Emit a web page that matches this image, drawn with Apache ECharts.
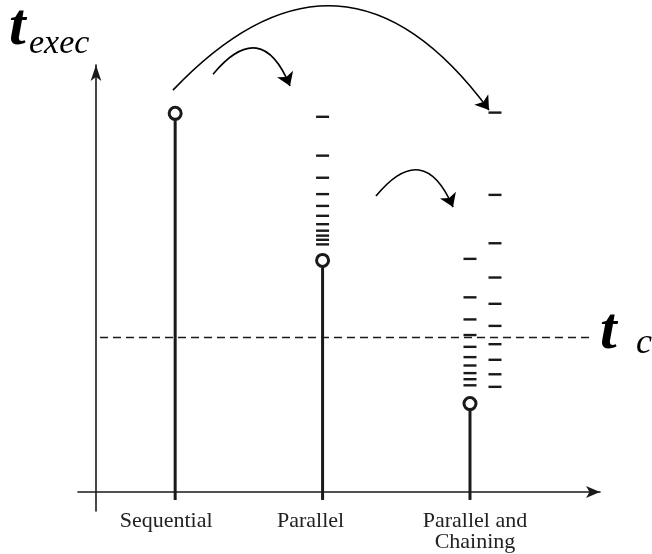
<!DOCTYPE html>
<html><head><meta charset="utf-8">
<script src="https://cdn.jsdelivr.net/npm/echarts@6/dist/echarts.min.js"></script>
<style>html,body{margin:0;padding:0;background:#fff}#c{width:652px;height:554px}</style>
</head><body><div id="c"></div>
<script>
// ---- data ----
const categories = ['Sequential', 'Parallel', 'Parallel and\nChaining'];
const categoryIndex = [1, 2, 3];
const execTimes = [99.4, 60.8, 23.2];
const tcValue = 40.7;
const parallelMarks = [98.5, 88.3, 82.5, 78.2, 75.1, 72.5, 70.3, 68.6, 67.3, 66.2, 65.0];
const chainingMarksInner = [61.2, 51.1, 45.3, 41.2, 38.1, 35.4, 33.2, 31.2, 29.6, 28.0];
const chainingMarksOuter = [99.6, 78.0, 65.3, 56.3, 49.4, 43.6, 38.8, 34.7, 30.9, 27.6];
// curved annotation arrows (data coordinates)
const arrowFrom = [[0.985, 105.5], [1.257, 109.7], [2.362, 77.7]];
const arrowTo   = [[3.129, 100.3], [1.779, 106.6], [2.885, 74.8]];
const arrowBend = [0.595, 0.83, 0.82];
const tcLineRange = [0.49, 3.83];

// ---- style ----
const INK = '#1a1a1a';
const labelDx = [-9, -12, 5];
const outerColumnDx = 25;
const markHalf = 6.5;

const chart = echarts.init(document.getElementById('c'), null, {renderer: 'canvas'});

function markRenderer(dx) {
  return function (params, api) {
    const p = api.coord([api.value(0), api.value(1)]);
    return {
      type: 'line',
      shape: {x1: p[0] + dx - markHalf, y1: p[1], x2: p[0] + dx + markHalf, y2: p[1]},
      style: {stroke: INK, lineWidth: 2.4}
    };
  };
}

const option = {
  animation: false,
  backgroundColor: '#fff',
  grid: {left: 78, right: 52, top: 65, bottom: 43, outerBoundsMode: 'none', containLabel: false},
  xAxis: {
    type: 'value', min: 0.3408, max: 3.882,
    axisLine: {onZero: true, symbol: ['none', 'arrow'], symbolSize: [9, 14], lineStyle: {color: INK, width: 1.6}},
    axisTick: {show: false}, axisLabel: {show: false}, splitLine: {show: false}
  },
  yAxis: {
    type: 'value', min: -5, max: 112.1, offset: -18,
    axisLine: {show: true, onZero: false, symbol: ['none', 'arrow'], symbolSize: [8, 16], lineStyle: {color: INK, width: 1.6}},
    axisTick: {show: false}, axisLabel: {show: false}, splitLine: {show: false}
  },
  graphic: [
    {type: 'text', x: 9, y: 28, style: {text: 't', font: 'italic bold 60px "Liberation Serif"', fill: '#000', verticalAlign: 'middle'}},
    {type: 'text', x: 29, y: 44, style: {text: 'exec', font: 'italic 34px "Liberation Serif"', fill: '#000', verticalAlign: 'middle'}},
    {type: 'text', x: 600, y: 332, style: {text: 't', font: 'italic bold 60px "Liberation Serif"', fill: '#000', verticalAlign: 'middle'}},
    {type: 'text', x: 636, y: 344, style: {text: 'c', font: 'italic 36px "Liberation Serif"', fill: '#000', verticalAlign: 'middle'}}
  ],
  series: [
    {
      type: 'custom', name: 'marksParallel', z: 3,
      data: parallelMarks.map(v => [categoryIndex[1], v]),
      renderItem: markRenderer(0)
    },
    {
      type: 'custom', name: 'marksChainingInner', z: 3,
      data: chainingMarksInner.map(v => [categoryIndex[2], v]),
      renderItem: markRenderer(0)
    },
    {
      type: 'custom', name: 'marksChainingOuter', z: 3,
      data: chainingMarksOuter.map(v => [categoryIndex[2], v]),
      renderItem: markRenderer(outerColumnDx)
    },
    {
      type: 'custom', name: 'tExec', z: 4,
      data: categories.map((c, i) => [categoryIndex[i], execTimes[i], i]),
      renderItem: function (params, api) {
        const i = api.value(2);
        const top = api.coord([api.value(0), api.value(1)]);
        const base = api.coord([api.value(0), 0]);
        return {
          type: 'group',
          children: [
            {type: 'line', shape: {x1: top[0], y1: top[1], x2: top[0], y2: base[1] + 8}, style: {stroke: INK, lineWidth: 3}},
            {type: 'circle', shape: {cx: top[0], cy: top[1], r: 6}, style: {fill: '#fff', stroke: INK, lineWidth: 3}},
            {type: 'text', x: top[0] + labelDx[i], y: base[1] + 19,
             style: {text: categories[i], font: '22px "Liberation Serif"', fill: '#222', align: 'center', verticalAlign: 'top', lineHeight: 21}}
          ]
        };
      },
      markLine: {
        silent: true, symbol: 'none', label: {show: false},
        lineStyle: {color: INK, width: 1.4, type: [8, 5]},
        data: [[{coord: [tcLineRange[0], tcValue]}, {coord: [tcLineRange[1], tcValue]}]]
      }
    },
    {
      type: 'lines', coordinateSystem: 'cartesian2d', clip: false, z: 5,
      symbol: ['none', 'arrow'], symbolSize: 13,
      lineStyle: {color: '#000', width: 1.6, opacity: 1},
      data: arrowFrom.map((f, i) => ({coords: [f, arrowTo[i]], lineStyle: {curveness: arrowBend[i]}}))
    }
  ]
};
chart.setOption(option);
</script>
</body></html>
